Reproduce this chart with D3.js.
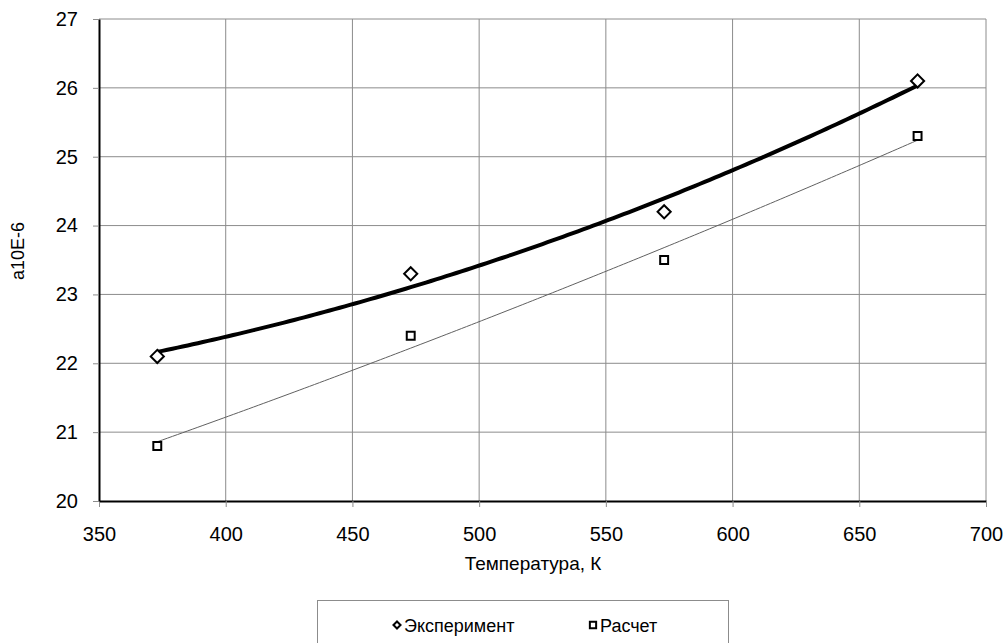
<!DOCTYPE html>
<html>
<head>
<meta charset="utf-8">
<script src="https://cdn.jsdelivr.net/npm/d3@7"></script>
<style>
  body { margin: 0; background: #fff; }
  svg { display: block; font-family: "Liberation Sans", Arial, sans-serif; }
</style>
</head>
<body>
<div id="chart"></div>
<script>
const width = 1006;
const height = 643;

// data
const temps = [373, 473, 573, 673];
const experiment = [22.1, 23.3, 24.2, 26.1];
const calc = [20.8, 22.4, 23.5, 25.3];
const xTicks = [350, 400, 450, 500, 550, 600, 650, 700];
const yTicks = [20, 21, 22, 23, 24, 25, 26, 27];

const margin = {left: 99, right: 20, top: 19, bottom: 142};

const x = d3.scaleLinear().domain([350, 700]).range([margin.left, width - margin.right]);
const y = d3.scaleLinear().domain([20, 27]).range([height - margin.bottom, margin.top]);

// quadratic least squares trend, like the spreadsheet trendline
function polyFit(xs, ys) {
  const n = xs.length;
  const m = d3.mean(xs);
  const u = xs.map(v => (v - m) / 100);
  let s = [0, 0, 0, 0, 0], t = [0, 0, 0];
  for (let i = 0; i < n; i++) {
    for (let k = 0; k < 5; k++) s[k] += Math.pow(u[i], k);
    for (let k = 0; k < 3; k++) t[k] += ys[i] * Math.pow(u[i], k);
  }
  const A = [[s[0], s[1], s[2], t[0]], [s[1], s[2], s[3], t[1]], [s[2], s[3], s[4], t[2]]];
  for (let i = 0; i < 3; i++) {
    for (let j = i + 1; j < 3; j++) {
      const f = A[j][i] / A[i][i];
      for (let k = i; k < 4; k++) A[j][k] -= f * A[i][k];
    }
  }
  const c = [0, 0, 0];
  for (let i = 2; i >= 0; i--) {
    let v = A[i][3];
    for (let k = i + 1; k < 3; k++) v -= A[i][k] * c[k];
    c[i] = v / A[i][i];
  }
  return v => { const w = (v - m) / 100; return c[0] + c[1] * w + c[2] * w * w; };
}

const svg = d3.select("#chart").append("svg")
    .attr("width", width)
    .attr("height", height);

// grid
svg.append("g")
  .selectAll("line")
  .data(yTicks.slice(1))
  .join("line")
    .attr("x1", x(350)).attr("x2", x(700))
    .attr("y1", d => y(d)).attr("y2", d => y(d))
    .attr("stroke", "#8c8c8c").attr("stroke-width", 1);

svg.append("g")
  .selectAll("line")
  .data(xTicks.slice(1))
  .join("line")
    .attr("x1", d => x(d)).attr("x2", d => x(d))
    .attr("y1", y(20)).attr("y2", y(27))
    .attr("stroke", "#8c8c8c").attr("stroke-width", 1);

// axes
const xAxis = svg.append("g")
    .attr("transform", `translate(0,${y(20)})`)
    .call(d3.axisBottom(x).tickValues(xTicks).tickFormat(d3.format("d"))
      .tickSize(6).tickPadding(20).tickSizeOuter(0));
const yAxis = svg.append("g")
    .attr("transform", `translate(${x(350)},0)`)
    .call(d3.axisLeft(y).tickValues(yTicks).tickFormat(d3.format("d"))
      .tickSize(6).tickPadding(15).tickSizeOuter(0));

[xAxis, yAxis].forEach(a => {
  a.select(".domain").attr("stroke", "#000").attr("stroke-width", 2);
  a.selectAll(".tick line").attr("stroke", "#8c8c8c");
  a.selectAll(".tick text")
    .attr("fill", "#000")
    .style("font-size", "20px")
    .style("font-family", "'Liberation Sans', Arial, sans-serif");
});

// trend curves
const expFit = polyFit(temps, experiment);
const calcFit = polyFit(temps, calc);
const xs = d3.range(temps[0], temps[temps.length - 1] + 0.1, 2);

const line = f => d3.line().x(d => x(d)).y(d => y(f(d)));

svg.append("path")
    .attr("d", line(calcFit)(xs))
    .attr("fill", "none")
    .attr("stroke", "#606060")
    .attr("stroke-width", 1);

svg.append("path")
    .attr("d", line(expFit)(xs))
    .attr("fill", "none")
    .attr("stroke", "#000")
    .attr("stroke-width", 4);

// markers
const diamond = d3.symbol().type(d3.symbolDiamond2).size(110);
const square = d3.symbol().type(d3.symbolSquare2).size(80);

svg.append("g")
  .selectAll("path")
  .data(temps.map((t, i) => [t, experiment[i]]))
  .join("path")
    .attr("d", diamond)
    .attr("transform", d => `translate(${x(d[0])},${y(d[1])})`)
    .attr("fill", "#fff").attr("stroke", "#000").attr("stroke-width", 2);

svg.append("g")
  .selectAll("path")
  .data(temps.map((t, i) => [t, calc[i]]))
  .join("path")
    .attr("d", square)
    .attr("transform", d => `translate(${x(d[0])},${y(d[1])})`)
    .attr("fill", "#fff").attr("stroke", "#000").attr("stroke-width", 2);

// axis titles
svg.append("text")
    .attr("x", 533).attr("y", 570)
    .attr("text-anchor", "middle")
    .style("font-size", "19px")
    .text("Температура, К");

svg.append("text")
    .attr("transform", "translate(24,251) rotate(-90)")
    .attr("text-anchor", "middle")
    .style("font-size", "18px")
    .text("a10E-6");

// legend
const legend = svg.append("g");
legend.append("rect")
    .attr("x", 317.5).attr("y", 600.5)
    .attr("width", 411).attr("height", 50)
    .attr("fill", "#fff").attr("stroke", "#8c8c8c");

const items = [
  {name: "Эксперимент", sym: d3.symbol().type(d3.symbolDiamond2).size(32), x: 397},
  {name: "Расчет", sym: d3.symbol().type(d3.symbolSquare2).size(50), x: 593}
];
const li = legend.selectAll("g").data(items).join("g")
    .attr("transform", d => `translate(${d.x},625)`);
li.append("path")
    .attr("d", d => d.sym())
    .attr("fill", "#fff").attr("stroke", "#000").attr("stroke-width", 2);
li.append("text")
    .attr("x", 7).attr("y", 6.5)
    .style("font-size", "18px")
    .text(d => d.name);
</script>
</body>
</html>
